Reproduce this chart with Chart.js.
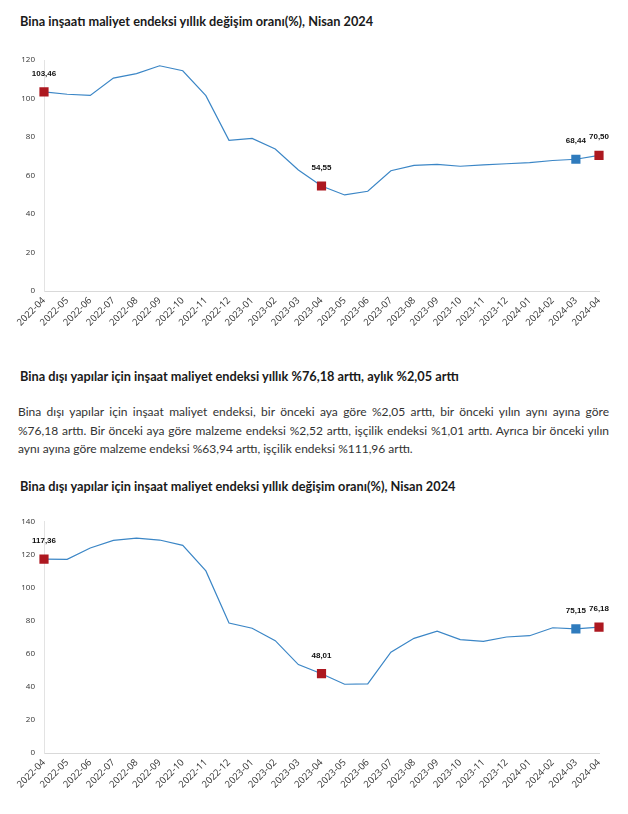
<!DOCTYPE html>
<html lang="tr">
<head>
<meta charset="utf-8">
<script src="https://cdn.jsdelivr.net/npm/chart.js@4"></script>
<style>
  body { margin: 0; width: 628px; height: 814px; background: #fff; position: relative; font-family: Lato, "Open Sans", sans-serif; color: #222; }
  .title { position: absolute; left: 20px; font-weight: bold; font-size: 12.75px; color: #1a1a1a; white-space: nowrap; }
  .para { position: absolute; left: 18px; width: 591px; font-size: 12px; color: #333; line-height: 18.5px; }
  .para div { text-align: justify; text-align-last: justify; white-space: nowrap; }
  .para div.last { text-align-last: left; }
  .box { position: absolute; left: 0; width: 628px; height: 300px; }
</style>
</head>
<body>
<div class="title" style="top:13px">Bina inşaatı maliyet endeksi yıllık değişim oranı(%), Nisan 2024</div>
<div class="box" style="top:40px"><canvas id="chart1"></canvas></div>

<div class="title" style="top:368px">Bina dışı yapılar için inşaat maliyet endeksi yıllık %76,18 arttı, aylık %2,05 arttı</div>
<div class="para" style="top:403px">
  <div>Bina dışı yapılar için inşaat maliyet endeksi, bir önceki aya göre %2,05 arttı, bir önceki yılın aynı ayına göre</div>
  <div>%76,18 arttı. Bir önceki aya göre malzeme endeksi %2,52 arttı, işçilik endeksi %1,01 arttı. Ayrıca bir önceki yılın</div>
  <div class="last">aynı ayına göre malzeme endeksi %63,94 arttı, işçilik endeksi %111,96 arttı.</div>
</div>

<div class="title" style="top:478px">Bina dışı yapılar için inşaat maliyet endeksi yıllık değişim oranı(%), Nisan 2024</div>
<div class="box" style="top:500px"><canvas id="chart2"></canvas></div>

<script>
const months = ['2022-04', '2022-05', '2022-06', '2022-07', '2022-08', '2022-09', '2022-10', '2022-11', '2022-12',
  '2023-01', '2023-02', '2023-03', '2023-04', '2023-05', '2023-06', '2023-07', '2023-08', '2023-09', '2023-10',
  '2023-11', '2023-12', '2024-01', '2024-02', '2024-03', '2024-04'];

// Bina inşaatı maliyet endeksi, yıllık değişim (%)
const binaValues = [103.46, 102.2, 101.6, 110.6, 112.9, 117.0, 114.4, 101.5, 78.3, 79.3, 73.8, 62.9, 54.55,
  49.9, 51.8, 62.5, 65.3, 65.8, 64.8, 65.5, 66.1, 66.7, 67.8, 68.44, 70.50];

// Bina dışı yapılar, yıllık değişim (%)
const disiValues = [117.36, 117.2, 124.1, 128.7, 130.0, 128.9, 125.7, 110.2, 78.7, 75.5, 68.0, 53.5, 48.01,
  41.6, 41.8, 61.0, 69.4, 73.7, 68.6, 67.6, 70.2, 71.0, 75.8, 75.15, 76.18];

const binaTicks = [0, 20, 40, 60, 80, 100, 120];
const disiTicks = [0, 20, 40, 60, 80, 100, 120, 140];

// highlighted points: index -> marker colour
const RED = '#ad1820';
const BLUE = '#2f7bbd';
const highlights = { 0: RED, 12: RED, 23: BLUE, 24: RED };

const valueLabels = {
  id: 'valueLabels',
  afterDatasetsDraw(chart) {
    const { ctx } = chart;
    const meta = chart.getDatasetMeta(0);
    const data = chart.data.datasets[0].data;
    ctx.save();
    ctx.font = 'bold 8px "Liberation Sans", Arial, sans-serif';
    ctx.fillStyle = '#111';
    ctx.textAlign = 'center';
    ctx.textBaseline = 'middle';
    Object.keys(highlights).forEach((i) => {
      const pt = meta.data[i];
      ctx.fillText(data[i].toFixed(2).replace('.', ','), pt.x, pt.y - 18);
    });
    ctx.restore();
  }
};

function makeChart(id, values, ticks, topPad, xHeight) {
  const yFont = { family: '"Open Sans", sans-serif', size: 8 };
  const xFont = { family: '"Open Sans", sans-serif', size: 9.5 };
  return new Chart(document.getElementById(id), {
    type: 'line',
    data: {
      labels: months,
      datasets: [{
        data: values,
        borderColor: '#3b86c6',
        borderWidth: 1.2,
        tension: 0,
        pointStyle: 'rect',
        pointRadius: (c) => (highlights[c.dataIndex] ? 6.5 : 0),
        pointHoverRadius: (c) => (highlights[c.dataIndex] ? 6.5 : 0),
        pointBorderWidth: 0,
        pointBackgroundColor: (c) => highlights[c.dataIndex] || '#3b86c6',
        pointBorderColor: (c) => highlights[c.dataIndex] || '#3b86c6'
      }]
    },
    options: {
      responsive: true,
      maintainAspectRatio: false,
      animation: false,
      layout: { padding: { top: topPad, right: 29, left: 0, bottom: 0 } },
      plugins: { legend: { display: false }, tooltip: { enabled: false } },
      scales: {
        x: {
          offset: false,
          grid: { display: false, drawTicks: false },
          border: { display: true, color: '#d9d9d9', width: 1 },
          ticks: { font: xFont, color: '#333', maxRotation: 45, minRotation: 45, autoSkip: false, padding: 4 },
          afterFit: (s) => { s.height = xHeight; }
        },
        y: {
          min: 0,
          max: ticks[ticks.length - 1],
          afterBuildTicks: (s) => { s.ticks = ticks.map((v) => ({ value: v })); },
          grid: { display: false, drawTicks: false },
          border: { display: true, color: '#e3e3e3', width: 1 },
          ticks: { font: yFont, color: '#333', padding: 9 },
          afterFit: (s) => { s.width = 44; }
        }
      }
    },
    plugins: [valueLabels]
  });
}

makeChart('chart1', binaValues, binaTicks, 20, 49);
makeChart('chart2', disiValues, disiTicks, 21.7, 47);
</script>
</body>
</html>
